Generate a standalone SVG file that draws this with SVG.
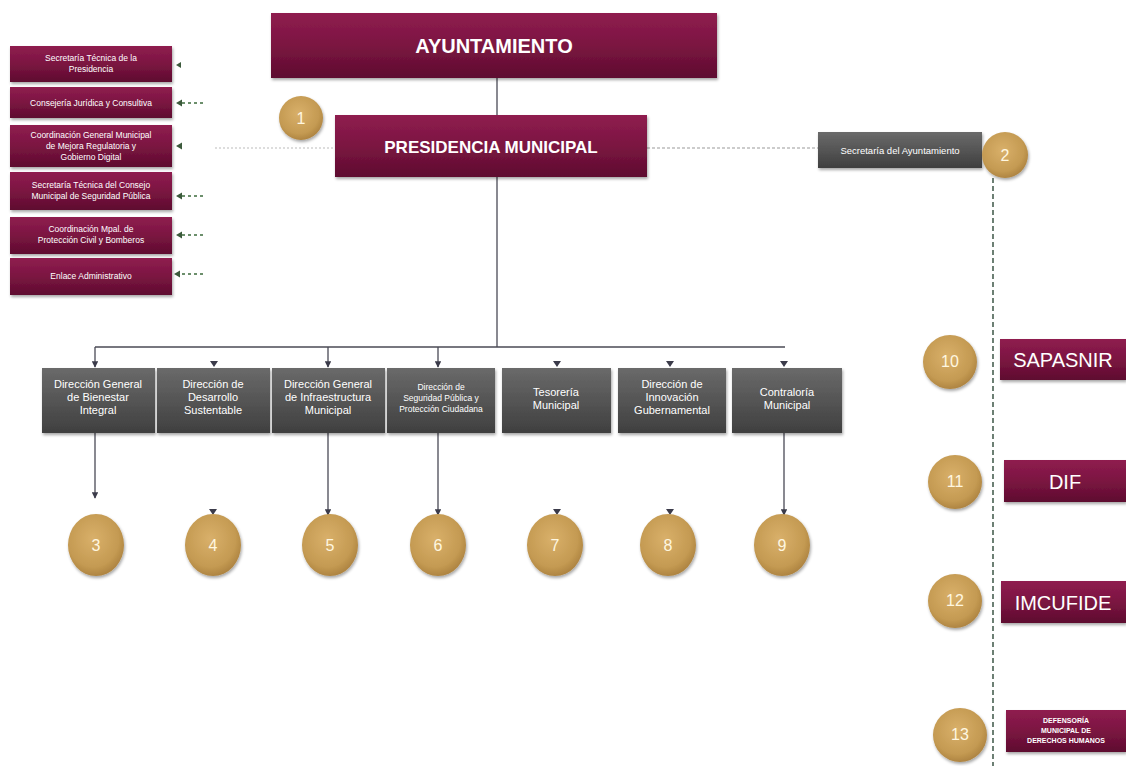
<svg xmlns="http://www.w3.org/2000/svg" width="1126" height="766" viewBox="0 0 1126 766">
<defs>
<linearGradient id="mar" x1="0" y1="0" x2="0" y2="1">
<stop offset="0" stop-color="#8f1d4f"/><stop offset="0.5" stop-color="#7b1541"/><stop offset="1" stop-color="#5e0c2f"/>
</linearGradient>
<linearGradient id="gry" x1="0" y1="0" x2="0" y2="1">
<stop offset="0" stop-color="#6a6a6a"/><stop offset="0.5" stop-color="#555555"/><stop offset="1" stop-color="#3f3f3f"/>
</linearGradient>
<radialGradient id="gold" cx="0.45" cy="0.4" r="0.65">
<stop offset="0" stop-color="#d9b06a"/><stop offset="0.7" stop-color="#c49a52"/><stop offset="1" stop-color="#a77d3c"/>
</radialGradient>
<filter id="sh" x="-10%" y="-10%" width="125%" height="135%">
<feDropShadow dx="1" dy="2" stdDeviation="1.5" flood-color="#000" flood-opacity="0.35"/>
</filter>
<marker id="ah" viewBox="0 0 10 10" refX="9" refY="5" markerWidth="5" markerHeight="5" orient="auto">
<path d="M0,0 L10,5 L0,10 z" fill="#3b3b4a"/>
</marker>
</defs>
<style>
.m{fill:url(#mar);filter:url(#sh)}
.g{fill:url(#gry);filter:url(#sh)}
.c{fill:url(#gold);filter:url(#sh)}
.t{font-family:"Liberation Sans",Arial,sans-serif;fill:#fff;text-anchor:middle}
.sm{font-size:8.5px}
.gt{font-size:11px}
.ct{font-size:16px;fill:#fff7e0;font-family:"Liberation Sans",Arial,sans-serif;text-anchor:middle}
.ln{stroke:#4a4a55;stroke-width:1.3;fill:none}
.dl{stroke:#2f4a3a;stroke-width:1.4;stroke-dasharray:5,3;fill:none}
.tri{fill:#3b3b4a}
</style>
<rect width="1126" height="766" fill="#fff"/>

<g id="connectors">
<line class="ln" x1="497" y1="78" x2="497" y2="115"/>
<line class="ln" x1="497" y1="177" x2="497" y2="347"/>
<line class="ln" x1="95" y1="347" x2="785" y2="347"/>
<line class="ln" x1="95" y1="347" x2="95" y2="367" marker-end="url(#ah)"/>
<line class="ln" x1="328" y1="347" x2="328" y2="367" marker-end="url(#ah)"/>
<line class="ln" x1="438" y1="347" x2="438" y2="367" marker-end="url(#ah)"/>
<path class="tri" d="M210,361 h8 l-4,6 z"/>
<path class="tri" d="M553,361 h8 l-4,6 z"/>
<path class="tri" d="M666,361 h8 l-4,6 z"/>
<path class="tri" d="M780,361 h8 l-4,6 z"/>
<line class="ln" x1="95" y1="433" x2="95" y2="498" marker-end="url(#ah)"/>
<line class="ln" x1="328" y1="433" x2="328" y2="515" marker-end="url(#ah)"/>
<line class="ln" x1="438" y1="433" x2="438" y2="515" marker-end="url(#ah)"/>
<line class="ln" x1="784" y1="433" x2="784" y2="515" marker-end="url(#ah)"/>
<path class="tri" d="M209,509 h8 l-4,6 z"/>
<path class="tri" d="M553,509 h8 l-4,6 z"/>
<path class="tri" d="M666,509 h8 l-4,6 z"/>
<line x1="215" y1="148" x2="335" y2="148" stroke="#bbb" stroke-width="1" stroke-dasharray="2,2"/>
<line x1="647" y1="148" x2="818" y2="148" stroke="#999" stroke-width="1" stroke-dasharray="3,2"/>
<line class="dl" x1="993" y1="178" x2="993" y2="766"/>
<g stroke="#3c6b3c" stroke-width="1.3" stroke-dasharray="3,3">
<line x1="182" y1="103" x2="206" y2="103"/>
<line x1="182" y1="196" x2="206" y2="196"/>
<line x1="182" y1="235" x2="206" y2="235"/>
<line x1="182" y1="274" x2="206" y2="274"/>
</g>
<g fill="#3c5a3c">
<path d="M176,65 l5,-3 v6 z"/>
<path d="M176,103 l6,-3.5 v7 z"/>
<path d="M176,146 l6,-3.5 v7 z"/>
<path d="M176,196 l6,-3.5 v7 z"/>
<path d="M176,235 l6,-3.5 v7 z"/>
<path d="M174,274 l6,-3.5 v7 z"/>
</g>
</g>

<g id="ayuntamiento"><rect class="m" x="271" y="13" width="446" height="65"/>
<text class="t" x="494" y="53" font-size="20" font-weight="bold">AYUNTAMIENTO</text></g>
<g id="presidencia"><rect class="m" x="335" y="115" width="312" height="62"/>
<text class="t" x="491" y="153" font-size="17" font-weight="bold">PRESIDENCIA MUNICIPAL</text></g>
<g id="c1"><circle class="c" cx="301" cy="118" r="22"/><text class="ct" x="301" y="124">1</text></g>

<g id="sec-ayto"><rect class="g" x="818" y="132" width="164" height="36"/>
<text class="t" x="900" y="154" font-size="9.5">Secretaría del Ayuntamiento</text></g>
<g id="c2"><circle class="c" cx="1005" cy="155" r="23"/><text class="ct" x="1005" y="161">2</text></g>

<g id="l1"><rect class="m" x="10" y="46" width="162" height="36"/>
<text class="t sm" x="91" y="61">Secretaría Técnica de la</text><text class="t sm" x="91" y="72">Presidencia</text></g>
<g id="l2"><rect class="m" x="10" y="87" width="162" height="31"/>
<text class="t sm" x="91" y="106">Consejería Jurídica y Consultiva</text></g>
<g id="l3"><rect class="m" x="10" y="125" width="162" height="42"/>
<text class="t sm" x="91" y="138">Coordinación General Municipal</text><text class="t sm" x="91" y="149">de Mejora Regulatoria y</text><text class="t sm" x="91" y="160">Gobierno Digital</text></g>
<g id="l4"><rect class="m" x="10" y="172" width="162" height="38"/>
<text class="t sm" x="91" y="188">Secretaría Técnica del Consejo</text><text class="t sm" x="91" y="199">Municipal de Seguridad Pública</text></g>
<g id="l5"><rect class="m" x="10" y="217" width="162" height="37"/>
<text class="t sm" x="91" y="232">Coordinación Mpal. de</text><text class="t sm" x="91" y="243">Protección Civil y Bomberos</text></g>
<g id="l6"><rect class="m" x="10" y="258" width="162" height="37"/>
<text class="t sm" x="91" y="279">Enlace Administrativo</text></g>

<g id="d1"><rect class="g" x="42" y="368" width="113" height="65"/>
<text class="t gt" x="98" y="388">Dirección General</text><text class="t gt" x="98" y="401">de Bienestar</text><text class="t gt" x="98" y="414">Integral</text></g>
<g id="d2"><rect class="g" x="157" y="368" width="113" height="65"/>
<text class="t gt" x="213" y="388">Dirección de</text><text class="t gt" x="213" y="401">Desarrollo</text><text class="t gt" x="213" y="414">Sustentable</text></g>
<g id="d3"><rect class="g" x="272" y="368" width="113" height="65"/>
<text class="t gt" x="328" y="388">Dirección General</text><text class="t gt" x="328" y="401">de Infraestructura</text><text class="t gt" x="328" y="414">Municipal</text></g>
<g id="d4"><rect class="g" x="387" y="368" width="108" height="65"/>
<text class="t sm" x="441" y="390">Dirección de</text><text class="t sm" x="441" y="401">Seguridad Pública y</text><text class="t sm" x="441" y="412">Protección Ciudadana</text></g>
<g id="d5"><rect class="g" x="502" y="368" width="109" height="65"/>
<text class="t gt" x="556" y="396">Tesorería</text><text class="t gt" x="556" y="409">Municipal</text></g>
<g id="d6"><rect class="g" x="618" y="368" width="108" height="65"/>
<text class="t gt" x="672" y="388">Dirección de</text><text class="t gt" x="672" y="401">Innovación</text><text class="t gt" x="672" y="414">Gubernamental</text></g>
<g id="d7"><rect class="g" x="732" y="368" width="110" height="65"/>
<text class="t gt" x="787" y="396">Contraloría</text><text class="t gt" x="787" y="409">Municipal</text></g>

<g id="c3"><ellipse class="c" cx="96" cy="545" rx="28" ry="31"/><text class="ct" x="96" y="551">3</text></g>
<g id="c4"><ellipse class="c" cx="213" cy="545" rx="28" ry="31"/><text class="ct" x="213" y="551">4</text></g>
<g id="c5"><ellipse class="c" cx="330" cy="545" rx="28" ry="31"/><text class="ct" x="330" y="551">5</text></g>
<g id="c6"><ellipse class="c" cx="438" cy="545" rx="28" ry="31"/><text class="ct" x="438" y="551">6</text></g>
<g id="c7"><ellipse class="c" cx="555" cy="545" rx="28" ry="31"/><text class="ct" x="555" y="551">7</text></g>
<g id="c8"><ellipse class="c" cx="668" cy="545" rx="28" ry="31"/><text class="ct" x="668" y="551">8</text></g>
<g id="c9"><ellipse class="c" cx="782" cy="545" rx="28" ry="31"/><text class="ct" x="782" y="551">9</text></g>

<g id="c10"><circle class="c" cx="950" cy="362" r="27"/><text class="ct" x="950" y="367" font-size="12">10</text></g>
<g id="sapasnir"><rect class="m" x="1000" y="339" width="126" height="41"/>
<text class="t" x="1063" y="367" font-size="20">SAPASNIR</text></g>
<g id="c11"><circle class="c" cx="955" cy="482" r="27"/><text class="ct" x="955" y="487" font-size="12">11</text></g>
<g id="dif"><rect class="m" x="1004" y="460" width="122" height="42"/>
<text class="t" x="1065" y="489" font-size="20">DIF</text></g>
<g id="c12"><circle class="c" cx="955" cy="601" r="27"/><text class="ct" x="955" y="606" font-size="12">12</text></g>
<g id="imcufide"><rect class="m" x="1001" y="581" width="125" height="42"/>
<text class="t" x="1063" y="610" font-size="20">IMCUFIDE</text></g>
<g id="c13"><circle class="c" cx="960" cy="735" r="27"/><text class="ct" x="960" y="740" font-size="12">13</text></g>
<g id="defensoria"><rect class="m" x="1006" y="710" width="120" height="42"/>
<text class="t" x="1066" y="723" font-size="7" font-weight="bold">DEFENSORÍA</text><text class="t" x="1066" y="733" font-size="7" font-weight="bold">MUNICIPAL DE</text><text class="t" x="1066" y="743" font-size="7" font-weight="bold">DERECHOS HUMANOS</text></g>
</svg>
